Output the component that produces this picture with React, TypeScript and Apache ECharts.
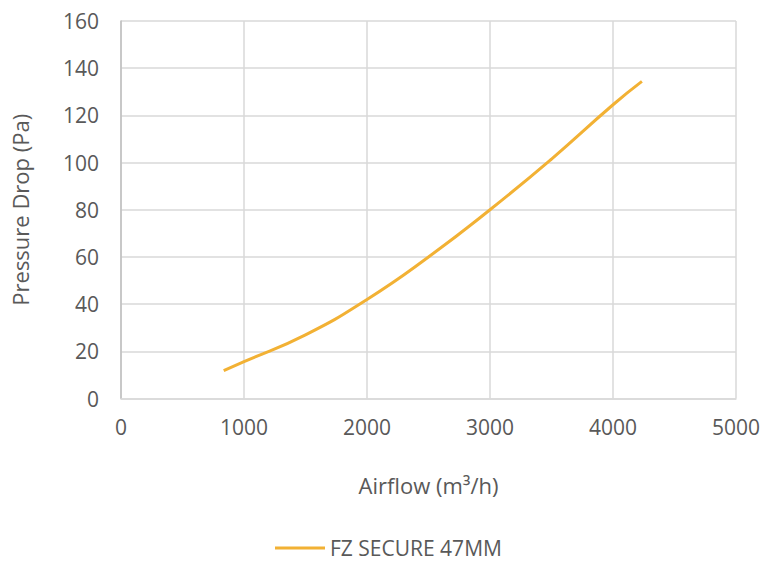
import React, { useEffect, useRef } from "react";
import * as echarts from "echarts";

const airflow = [835, 1000, 1500, 2000, 2500, 3000, 3500, 4000, 4235];
const pressure = [11.8, 15.6, 27, 42, 60, 80, 101.5, 124.5, 134.4];
const seriesName = "FZ SECURE 47MM";
const xTitle = "Airflow (m³/h)";
const yTitle = "Pressure Drop (Pa)";

export default function App() {
  const ref = useRef<HTMLDivElement>(null);
  useEffect(() => {
    const chart = echarts.init(ref.current!, null, { renderer: "svg" });
    const font = "'Open Sans', 'Noto Sans', sans-serif";
    const grey = "#595959";
    chart.setOption({
      animation: false,
      textStyle: { fontFamily: font },
      grid: { left: 121, right: 29, top: 21, bottom: 165.5, containLabel: false },
      legend: {
        left: 275,
        top: 537,
        padding: 0,
        itemWidth: 50,
        itemHeight: 3,
        itemGap: 5,
        icon: "rect",
        textStyle: { fontFamily: font, fontSize: 21, lineHeight: 22, color: grey },
        data: [{ name: seriesName }],
      },
      xAxis: {
        type: "value",
        min: 0,
        max: 5000,
        interval: 1000,
        name: xTitle,
        nameLocation: "middle",
        nameGap: 75,
        nameTextStyle: { fontFamily: font, fontSize: 22, color: grey },
        axisLine: { show: true, lineStyle: { color: "#d9d9d9", width: 1.5 } },
        axisTick: { show: false },
        axisLabel: {
          fontFamily: font,
          fontSize: 21,
          color: grey,
          margin: 18,
          formatter: (v: number) => String(v),
        },
        splitLine: { show: true, lineStyle: { color: "#d9d9d9", width: 1.5 } },
      },
      yAxis: {
        type: "value",
        min: 0,
        max: 160,
        interval: 20,
        name: yTitle,
        nameLocation: "middle",
        nameGap: 90,
        nameRotate: 90,
        nameTextStyle: { fontFamily: font, fontSize: 22, color: grey },
        axisLine: { show: true, lineStyle: { color: "#bfbfbf", width: 1.5 } },
        axisTick: { show: false },
        axisLabel: {
          fontFamily: font,
          fontSize: 21,
          color: grey,
          margin: 22,
          formatter: (v: number) => String(v),
        },
        splitLine: { show: true, lineStyle: { color: "#d9d9d9", width: 1.5 } },
      },
      series: [
        {
          name: seriesName,
          type: "line",
          smooth: 0.5,
          showSymbol: false,
          symbol: "none",
          lineStyle: { color: "#F2B134", width: 3 },
          itemStyle: { color: "#F2B134" },
          data: airflow.map((x, i) => [x, pressure[i]]),
        },
      ],
    });
    return () => chart.dispose();
  }, []);
  return <div ref={ref} style={{ width: 765, height: 564, position: "absolute", left: 0, top: 0 }} />;
}
